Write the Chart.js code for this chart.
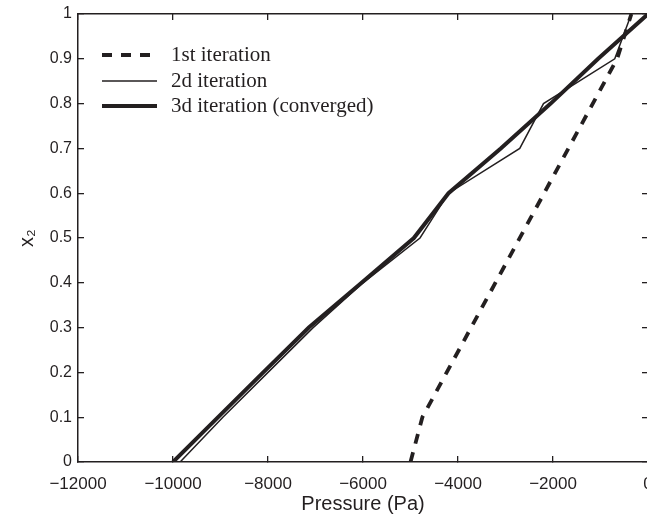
<!DOCTYPE html>
<html>
<head>
<meta charset="utf-8">
<script src="https://cdn.jsdelivr.net/npm/chart.js@4"></script>
<style>
  html, body { margin: 0; padding: 0; overflow: hidden; background: #fff; }
  #wrap { width: 660px; height: 523px; }
</style>
</head>
<body>
<div id="wrap"><canvas id="chart"></canvas></div>
<script>
  'use strict';

  // mole fraction nodes and pressure
  var iter1X2 = [0, 0.1, 0.9, 1.0];
  var iter1Pressure = [-5000, -4750, -650, -350];

  var iter2X2 = [0, 0.1, 0.2, 0.3, 0.4, 0.5, 0.6, 0.7, 0.8, 0.9, 1.0];
  var iter2Pressure = [-9850, -8950, -8000, -7050, -6000, -4800, -4200, -2700, -2200, -700, -350];

  var iter3X2 = [0, 0.1, 0.2, 0.3, 0.4, 0.5, 0.6, 0.7, 0.8, 0.9, 1.0];
  var iter3Pressure = [-10000, -9050, -8100, -7140, -6030, -4930, -4200, -3100, -2050, -1050, 0];

  var seriesLabels = ['1st iteration', '2d iteration', '3d iteration (converged)'];
  var xTicks = [-12000, -10000, -8000, -6000, -4000, -2000, 0];

  var ink = '#231f20';

  function toPoints(xs, ys) {
    var pts = [];
    for (var i = 0; i < xs.length; i++) {
      pts.push({ x: xs[i], y: ys[i] });
    }
    return pts;
  }

  // matlab style inward tick marks, no grid
  function boxGrid() {
    return { drawOnChartArea: false, drawTicks: true, tickLength: -6, color: ink, lineWidth: 1.3 };
  }

  // labels may hang outside the canvas, like in the original
  function noOverhang(scale) {
    scale.paddingLeft = 0;
    scale.paddingRight = 0;
    scale.paddingTop = 0;
    scale.paddingBottom = 0;
  }

  // simple legend in the top left corner of the plot
  var cornerLegend = {
    id: 'cornerLegend',
    afterDraw: function (chart) {
      var ctx = chart.ctx;
      var area = chart.chartArea;
      var rows = [41, 67, 92];
      ctx.save();
      chart.data.datasets.forEach(function (ds, i) {
        var y = area.top + rows[i];
        ctx.beginPath();
        ctx.strokeStyle = ds.borderColor;
        ctx.lineWidth = ds.borderWidth;
        ctx.setLineDash(ds.borderDash || []);
        ctx.moveTo(area.left + 24, y);
        ctx.lineTo(area.left + 79, y);
        ctx.stroke();
        ctx.setLineDash([]);
        ctx.fillStyle = ink;
        ctx.font = '21px "Liberation Serif", "Times New Roman", serif';
        ctx.textBaseline = 'middle';
        ctx.fillText(ds.label, area.left + 93, y);
      });
      ctx.restore();
    }
  };

  var sans = '"Liberation Sans", Arial, Helvetica, sans-serif';

  var chart = new Chart(document.getElementById('chart').getContext('2d'), {
    type: 'scatter',
    data: {
      datasets: [{
        label: seriesLabels[0],
        data: toPoints(iter1Pressure, iter1X2),
        showLine: true,
        borderColor: ink,
        borderWidth: 3.8,
        borderDash: [10, 9],
        pointRadius: 0
      }, {
        label: seriesLabels[1],
        data: toPoints(iter2Pressure, iter2X2),
        showLine: true,
        borderColor: ink,
        borderWidth: 1.5,
        pointRadius: 0
      }, {
        label: seriesLabels[2],
        data: toPoints(iter3Pressure, iter3X2),
        showLine: true,
        borderColor: ink,
        borderWidth: 4,
        pointRadius: 0
      }]
    },
    options: {
      responsive: true,
      maintainAspectRatio: false,
      animation: false,
      layout: { padding: 0 },
      plugins: {
        legend: { display: false },
        tooltip: { enabled: false }
      },
      scales: {
        x: {
          type: 'linear',
          position: 'bottom',
          min: -12000,
          max: 0,
          afterBuildTicks: function (scale) {
            scale.ticks = xTicks.map(function (v) { return { value: v }; });
          },
          afterFit: function (scale) { scale.height = 61; noOverhang(scale); },
          grid: boxGrid(),
          border: { color: ink, width: 1.5 },
          ticks: {
            color: ink,
            font: { family: sans, size: 17 },
            padding: 18,
            maxRotation: 0,
            callback: function (v) { return v < 0 ? '\u2212' + Math.abs(v) : String(v); }
          },
          title: { display: true, text: 'Pressure (Pa)', color: ink, font: { family: sans, size: 20 }, padding: { top: 0, bottom: 7 } }
        },
        xTop: {
          type: 'linear',
          position: 'top',
          min: -12000,
          max: 0,
          afterBuildTicks: function (scale) {
            scale.ticks = xTicks.map(function (v) { return { value: v }; });
          },
          afterFit: function (scale) { scale.height = 14; noOverhang(scale); },
          grid: boxGrid(),
          border: { color: ink, width: 1.5 },
          ticks: { display: false }
        },
        y: {
          type: 'linear',
          position: 'left',
          min: 0,
          max: 1,
          afterFit: function (scale) { scale.width = 78; noOverhang(scale); },
          grid: boxGrid(),
          border: { color: ink, width: 1.5 },
          ticks: {
            stepSize: 0.1,
            color: ink,
            font: { family: sans, size: 16 },
            padding: 12,
            callback: function (v) { return String(Number(v.toFixed(1))); }
          },
          title: { display: true, text: 'x\u2082', color: ink, font: { family: sans, size: 20 }, padding: { top: 15, bottom: 0 } }
        },
        yRight: {
          type: 'linear',
          position: 'right',
          min: 0,
          max: 1,
          afterFit: function (scale) { scale.width = 12; noOverhang(scale); },
          grid: boxGrid(),
          border: { color: ink, width: 1.5 },
          ticks: { display: false, stepSize: 0.1 }
        }
      }
    },
    plugins: [cornerLegend]
  });
</script>
</body>
</html>
